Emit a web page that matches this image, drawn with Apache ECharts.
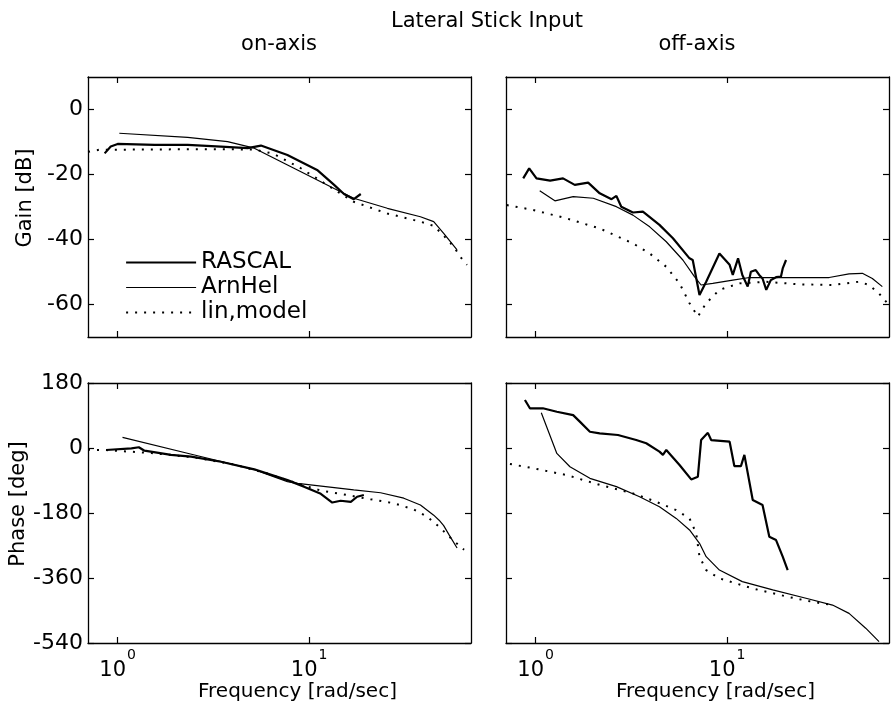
<!DOCTYPE html>
<html>
<head>
<meta charset="utf-8">
<script src="https://cdn.jsdelivr.net/npm/echarts@6/dist/echarts.min.js"></script>
<style>html,body{margin:0;padding:0;background:#fff}#c{width:892px;height:711px}</style>
</head>
<body>
<div id="c"></div>
<script>
// ---- data: [frequency rad/s, value] ----
const onGainRascal = [[0.855,-13.5],[0.92,-11.4],[1.0,-10.6],[1.56,-10.9],[2.32,-10.9],[3.46,-11.4],[4.77,-11.9],[5.6,-11.1],[7.7,-14.0],[11.0,-18.6],[13.5,-23.2],[15.2,-26.0],[17.1,-27.6],[18.6,-26.0]];
const onGainArnhel = [[1.02,-7.3],[2.32,-8.6],[3.75,-9.9],[5.17,-11.9],[13.5,-24.3],[17.1,-27.3],[25.6,-30.4],[38.1,-33.0],[44.7,-34.5],[50.4,-38.1],[59.2,-43.2]];
const onGainLin = [[0.7,-13.0],[0.8,-12.4],[1.5,-12.3],[3.0,-12.2],[5.17,-12.3],[6.5,-13.6],[9.0,-18.0],[13.5,-24.6],[17.1,-28.4],[25.6,-32.0],[38.1,-34.5],[44.7,-35.8],[50.4,-38.8],[56.9,-42.2],[61.5,-45.3],[66.7,-47.8]];

const offGainRascal = [[0.861,-21.2],[0.925,-18.1],[1.01,-21.2],[1.19,-21.9],[1.39,-21.2],[1.60,-23.2],[1.88,-22.5],[2.16,-25.8],[2.49,-27.6],[2.64,-26.6],[2.80,-29.9],[3.22,-31.7],[3.63,-31.4],[4.43,-35.5],[5.21,-39.6],[6.36,-45.8],[6.61,-46.3],[7.17,-57.1],[7.77,-53.0],[9.11,-44.3],[10.3,-47.8],[10.7,-50.9],[11.4,-45.8],[12.0,-50.9],[12.8,-54.5],[13.3,-49.9],[14.1,-49.4],[14.7,-50.9],[15.3,-52.0],[16.0,-55.5],[16.9,-52.5],[18.0,-51.6],[19.1,-51.4],[19.5,-48.9],[20.3,-46.3]];
const offGainArnhel = [[1.05,-25.0],[1.26,-28.1],[1.57,-26.8],[2.0,-27.3],[2.64,-29.9],[3.22,-32.5],[3.94,-36.1],[4.81,-40.7],[5.87,-46.3],[6.75,-51.4],[7.31,-54.0],[8.41,-53.5],[10.7,-52.5],[13.1,-51.7],[23.8,-51.7],[34.1,-51.7],[43.3,-50.6],[50.8,-50.4],[57.3,-52.0],[64.6,-54.5]];
const offGainLin = [[0.706,-29.4],[0.97,-30.9],[1.45,-33.5],[2.16,-36.6],[3.22,-41.2],[3.94,-44.3],[4.81,-48.4],[5.64,-53.5],[6.36,-59.6],[7.03,-63.7],[7.77,-59.6],[9.11,-55.5],[11.6,-53.5],[16.0,-53.0],[23.8,-53.8],[35.5,-54.0],[48.9,-53.0],[55.1,-54.0],[62.1,-56.6],[70,-60.2]];

const onPhaseRascal = [[0.87,-5.5],[1.18,-1],[1.29,2],[1.38,-7.5],[1.90,-19],[2.42,-24],[3.46,-38],[5.17,-59],[7.7,-89],[9.4,-107],[11.5,-127],[13.2,-151],[14.6,-146],[16.5,-149],[17.8,-135],[19.3,-130]];
const onPhaseArnhel = [[1.06,29.6],[2.52,-19.4],[5.17,-60],[7.7,-93],[8.69,-98],[17.1,-116],[23.6,-124],[31.2,-139],[38.1,-158],[44.7,-186],[47.7,-200],[50.4,-215],[53.7,-240],[59.2,-277]];
const onPhaseLin = [[0.7,-5],[0.85,-5.5],[1.0,-8],[1.5,-14],[2.5,-26],[4.0,-45],[6.0,-70],[8.0,-92],[11.5,-118],[14.6,-127],[20.9,-142],[27.7,-153],[35.2,-170],[41.3,-190],[47.7,-218],[55.0,-250],[64.4,-282]];

const offPhaseRascal = [[0.879,133],[0.933,110],[1.09,110],[1.29,100.5],[1.57,91],[1.70,73],[1.92,45],[2.16,40.5],[2.69,36],[3.35,22],[3.78,13],[4.43,-10],[4.62,-19],[4.81,-5.5],[5.64,-47],[6.49,-87],[7.03,-79.5],[7.31,22],[7.93,42],[8.25,22],[10.3,17.5],[10.9,-50],[11.8,-50],[12.3,-19],[13.6,-144],[15.3,-158],[16.6,-246],[18.0,-255],[19.5,-301],[20.7,-338]];
const offPhaseArnhel = [[1.07,97.8],[1.29,-15],[1.51,-52],[1.92,-84],[2.64,-107],[3.49,-135],[4.43,-162.5],[5.42,-195],[6.36,-227],[7.17,-264],[7.77,-301],[9.11,-338],[12.0,-370],[17.3,-393],[25.8,-416],[35.5,-435],[43.3,-458],[52.9,-499],[62.1,-536]];
const offPhaseLin = [[0.734,-44.3],[0.97,-56],[1.45,-75],[2.16,-102],[3.22,-125.5],[4.26,-149],[5.42,-172],[6.36,-195],[6.89,-236],[7.17,-301],[7.77,-338],[9.11,-361],[13.6,-389],[21.1,-413],[27.9,-426],[35.5,-435]];

const xTicks = [1, 10];
const gainTicks = [-60, -40, -20, 0];
const phaseTicks = [-540, -360, -180, 0, 180];
const seriesNames = ['RASCAL', 'ArnHel', 'lin,model'];

// ---- layout ----
const FONT = '"DejaVu Sans", "Liberation Sans", Arial, sans-serif';
const FS = 21;
const panels = [
  {left: 88, top: 77, bottom: false, leftSide: true, min: -70, max: 10, ticks: gainTicks, name: 'Gain [dB]', data: [onGainRascal, onGainArnhel, onGainLin]},
  {left: 506, top: 77, bottom: false, leftSide: false, min: -70, max: 10, ticks: gainTicks, name: '', data: [offGainRascal, offGainArnhel, offGainLin]},
  {left: 88, top: 383, bottom: true, leftSide: true, min: -540, max: 180, ticks: phaseTicks, name: 'Phase [deg]', data: [onPhaseRascal, onPhaseArnhel, onPhaseLin]},
  {left: 506, top: 383, bottom: true, leftSide: false, min: -540, max: 180, ticks: phaseTicks, name: '', data: [offPhaseRascal, offPhaseArnhel, offPhaseLin]}
];
const W = 383, H = 260;
const axisLine = {show: true, onZero: false, lineStyle: {color: '#000', width: 1.3}};
const tickStyle = {color: '#000', width: 1.2};
const styles = [
  {color: '#000', width: 2.2},
  {color: '#000', width: 1.2},
  {color: '#000', width: 2, type: [2, 7], cap: 'butt'}
];

const grid = [], xAxis = [], yAxis = [], series = [];
panels.forEach((p, i) => {
  grid.push({left: p.left, top: p.top, width: W, height: H, containLabel: false});
  const xBase = {type: 'log', gridIndex: i, min: 0.7, max: 70, axisLine,
    splitLine: {show: false}, minorTick: {show: false}, minorSplitLine: {show: false}};
  xAxis.push(Object.assign({}, xBase, {
    position: 'bottom',
    axisTick: {show: true, inside: true, length: 6, customValues: xTicks, lineStyle: tickStyle},
    axisLabel: {show: p.bottom, customValues: xTicks, margin: 5, color: '#000',
      formatter: v => '{b|10}{s|' + Math.round(Math.log10(v)) + '}',
      rich: {b: {fontFamily: FONT, fontSize: FS, color: '#000', padding: [12, 0, 0, 0]},
             s: {fontFamily: FONT, fontSize: 14, color: '#000', verticalAlign: 'top', padding: [0, 0, 0, 1]}}},
    name: p.bottom ? 'Frequency [rad/sec]' : '', nameLocation: 'middle', nameGap: 36,
    nameTextStyle: {fontFamily: FONT, fontSize: 20, color: '#000', padding: [0, 0, 0, 36]}
  }));
  xAxis.push(Object.assign({}, xBase, {
    position: 'top',
    axisTick: {show: true, inside: true, length: 6, customValues: xTicks, lineStyle: tickStyle},
    axisLabel: {show: false}
  }));
  const yBase = {type: 'value', gridIndex: i, min: p.min, max: p.max, axisLine,
    splitLine: {show: false},
    axisTick: {show: true, inside: true, length: 6, customValues: p.ticks, lineStyle: tickStyle}};
  yAxis.push(Object.assign({}, yBase, {
    position: 'left',
    axisLabel: {show: p.leftSide, customValues: p.ticks, margin: 5, color: '#000', fontFamily: FONT, fontSize: 22},
    name: p.name, nameLocation: 'middle', nameRotate: 90, nameGap: 52,
    nameTextStyle: {fontFamily: FONT, fontSize: FS, color: '#000', padding: [0, 0, 0, 18]}
  }));
  yAxis.push(Object.assign({}, yBase, {position: 'right', axisLabel: {show: false}}));

  p.data.forEach((d, k) => {
    series.push({
      type: 'line', name: seriesNames[k], xAxisIndex: 2 * i, yAxisIndex: 2 * i,
      data: d, showSymbol: false, symbol: 'none', smooth: false,
      lineStyle: styles[k], itemStyle: {color: '#000'}, z: 3 - k, silent: true
    });
  });
});

const chart = echarts.init(document.getElementById('c'), null, {renderer: 'canvas'});
chart.setOption({
  animation: false,
  backgroundColor: '#fff',
  grid, xAxis, yAxis, series,
  legend: {
    show: true, orient: 'vertical', left: 125, top: 251, padding: 0,
    itemWidth: 70, itemHeight: 14, itemGap: 2,
    itemStyle: {opacity: 0},
    data: seriesNames.map((n, k) => ({name: n, lineStyle: Object.assign({}, styles[k])})),
    textStyle: {fontFamily: FONT, fontSize: 23, color: '#000', lineHeight: 22},
    selectedMode: false
  },
  graphic: [
    {type: 'text', x: 487, y: 22, style: {text: 'Lateral Stick Input', fontFamily: FONT, fontSize: FS, fill: '#000', align: 'center', verticalAlign: 'middle'}},
    {type: 'text', x: 279, y: 45, style: {text: 'on-axis', fontFamily: FONT, fontSize: FS, fill: '#000', align: 'center', verticalAlign: 'middle'}},
    {type: 'text', x: 697, y: 45, style: {text: 'off-axis', fontFamily: FONT, fontSize: FS, fill: '#000', align: 'center', verticalAlign: 'middle'}}
  ]
});
</script>
</body>
</html>
